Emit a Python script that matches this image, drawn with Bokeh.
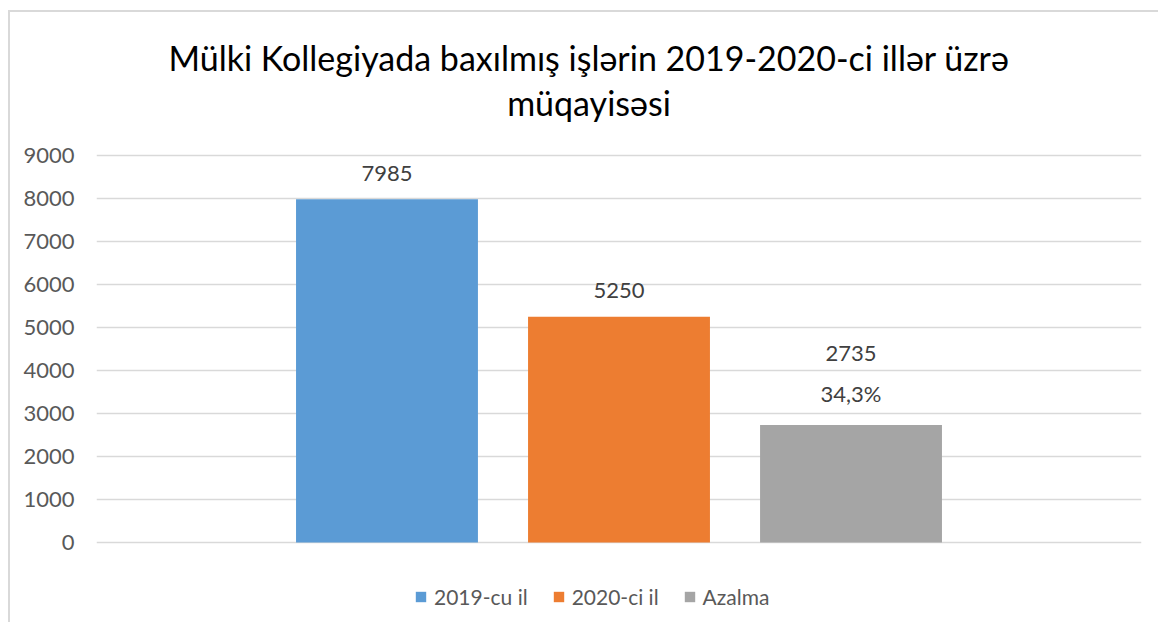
from bokeh.plotting import figure
from bokeh.models import (ColumnDataSource, Range1d, Legend, LegendItem, Label,
                          FixedTicker, LabelSet)
from bokeh.core.properties import value
from bokeh.embed import file_html
from bokeh.resources import INLINE

# ---- data ----
series = ["2019-cu il", "2020-ci il", "Azalma"]
values = [7985, 5250, 2735]
percent_labels = ["", "", "34,3%"]
colors = ["#5B9BD5", "#ED7D31", "#A5A5A5"]
title_lines = ["Mülki Kollegiyada baxılmış işlərin 2019-2020-ci illər üzrə", "müqayisəsi"]
y_ticks = [0, 1000, 2000, 3000, 4000, 5000, 6000, 7000, 8000, 9000]

FONT = "Lato"

xs = list(range(len(series)))
val_offsets = [71 if pl else 26 for pl in percent_labels]
src = ColumnDataSource(dict(
    x=xs, top=values, color=colors, name=series,
    label=[str(v) for v in values], pct=percent_labels,
    voff=val_offsets, poff=[31] * len(xs),
))

# frame spans the full canvas height; gridlines/ticks only at y_ticks
p = figure(width=1150, height=612, output_backend="svg", toolbar_location=None,
           x_range=Range1d(-1.252, 3.252), y_range=Range1d(-1907, 12326),
           min_border_left=86, min_border_right=19, min_border_top=0,
           min_border_bottom=0,
           styles={"border-top": "2px solid #d9d9d9", "border-left": "2px solid #d9d9d9",
                   "margin-top": "10px", "margin-left": "8px"})
p.outline_line_color = None
p.background_fill_color = "white"
p.border_fill_color = "white"

bars = p.vbar(x="x", top="top", width=0.784, bottom=0, color="color", source=src,
              line_color=None)

p.xaxis.visible = False
p.xgrid.visible = False
p.ygrid.grid_line_color = "#d9d9d9"
p.ygrid.grid_line_width = 1.3
yax = p.yaxis[0]
yax.ticker = FixedTicker(ticks=y_ticks)
yax.axis_line_color = None
yax.major_tick_line_color = None
yax.minor_tick_line_color = None
yax.major_tick_out = 0
yax.major_label_standoff = 22
yax.major_label_text_font = FONT
yax.major_label_text_font_size = "22px"
yax.major_label_text_color = "#595959"

lab = LabelSet(x="x", y="top", text="label", source=src, y_offset="voff",
               text_align="center", text_baseline="middle",
               text_font=value(FONT), text_font_size="22px", text_color="#404040")
p.add_layout(lab)
lab2 = LabelSet(x="x", y="top", text="pct", source=src, y_offset="poff",
                text_align="center", text_baseline="middle",
                text_font=value(FONT), text_font_size="22px", text_color="#404040")
p.add_layout(lab2)

# two-line chart title (screen units, relative to the frame's bottom-left)
for i, line in enumerate(title_lines):
    p.add_layout(Label(x=492.5, y=567 - 45 * i, x_units="screen", y_units="screen",
                       text=line, text_align="center", text_baseline="middle",
                       text_font=FONT, text_font_size="34px",
                       text_color="#000000"))

items = [LegendItem(label=s, renderers=[bars], index=i) for i, s in enumerate(series)]
legend = Legend(items=items, orientation="horizontal", location=(318, 15),
                glyph_width=13, glyph_height=13, label_standoff=7, spacing=24,
                padding=0, margin=0, border_line_color=None,
                background_fill_alpha=0, label_text_font=FONT,
                label_text_font_size="21px", label_text_color="#595959")
p.add_layout(legend)

open("out.html", "w").write(file_html(p, INLINE))
